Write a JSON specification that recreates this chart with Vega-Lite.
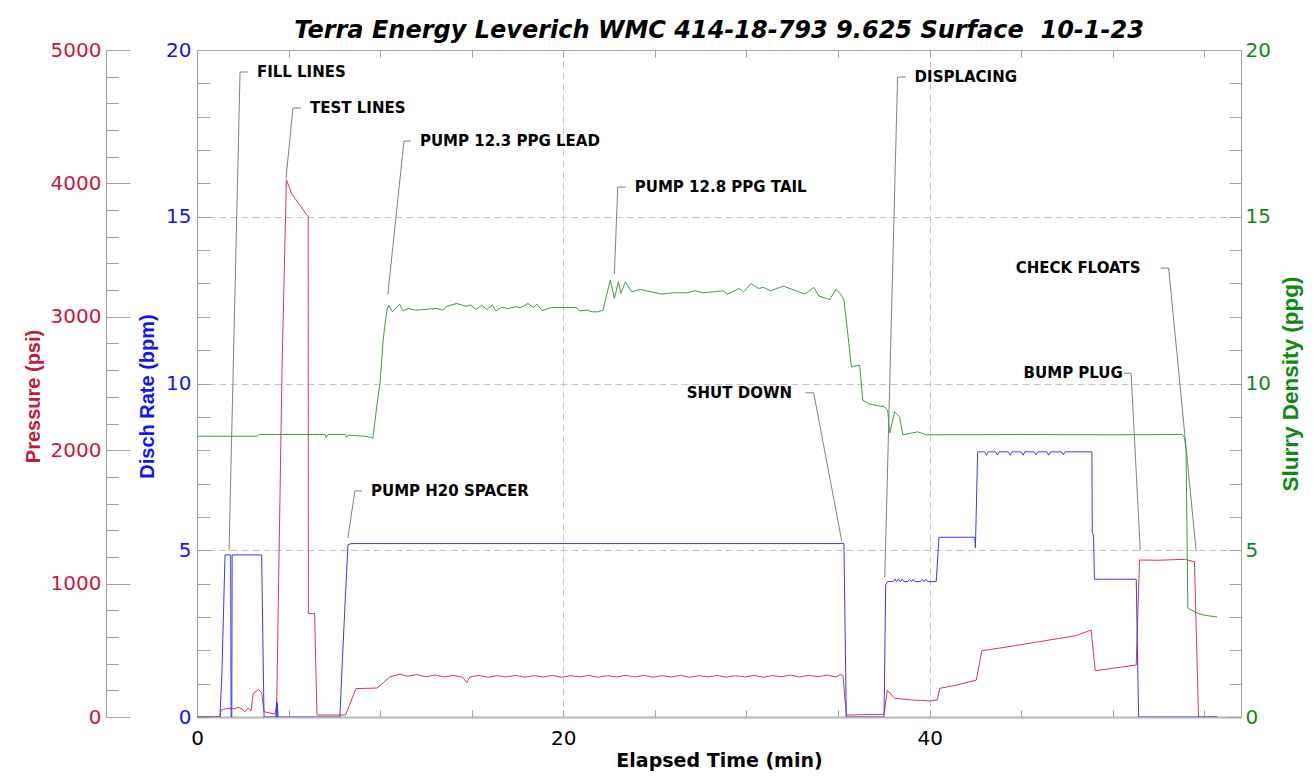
{
  "$schema": "https://vega.github.io/schema/vega-lite/v6.json",
  "width": 1044,
  "height": 667,
  "autosize": "none",
  "padding": {"left": 197, "top": 50, "right": 73, "bottom": 61},
  "background": "white",
  "title": {
    "text": "Terra Energy Leverich WMC 414-18-793 9.625 Surface\u00a0 10-1-23",
    "font": "DejaVu Sans",
    "fontSize": 24,
    "fontWeight": "bold",
    "fontStyle": "italic",
    "color": "black",
    "anchor": "middle",
    "frame": "group",
    "offset": -3
  },
  "config": {
    "view": {"stroke": "#a0a0a0", "strokeWidth": 1},
    "axis": {"domainColor": "#a0a0a0", "tickColor": "#a0a0a0", "gridColor": "#c4c4c4", "labelFont": "DejaVu Sans", "titleFont": "Liberation Sans", "labelOverlap": false, "labelFlush": false}
  },
  "datasets": {
    "pressure": [
      {"t":0,"p":0},{"t":1.25,"p":0},{"t":1.31,"p":52},{"t":1.44,"p":58},{"t":1.75,"p":65},{"t":2.07,"p":62},{"t":2.25,"p":72},{"t":2.44,"p":62},{"t":2.62,"p":40},{"t":2.8,"p":67},{"t":2.95,"p":47},{"t":3.07,"p":177},{"t":3.35,"p":207},{"t":3.53,"p":182},{"t":3.66,"p":40},{"t":3.98,"p":30},{"t":4.26,"p":22},{"t":4.35,"p":80},{"t":4.64,"p":2600},{"t":4.88,"p":4028},{"t":5.18,"p":3920},{"t":6.07,"p":3750},{"t":6.08,"p":775},{"t":6.42,"p":775},{"t":6.55,"p":15},{"t":8.11,"p":15},{"t":8.68,"p":213},{"t":9.3,"p":215},{"t":9.81,"p":217},{"t":10.2,"p":260},{"t":10.53,"p":300},{"t":11.08,"p":322},{"t":11.5,"p":305},{"t":12.0,"p":318},{"t":12.5,"p":302},{"t":13.0,"p":315},{"t":13.5,"p":300},{"t":14.0,"p":312},{"t":14.5,"p":298},{"t":14.73,"p":258},{"t":14.9,"p":300},{"t":15.4,"p":312},{"t":15.9,"p":298},{"t":16.4,"p":310},{"t":16.9,"p":300},{"t":17.4,"p":312},{"t":17.9,"p":298},{"t":18.4,"p":310},{"t":18.9,"p":300},{"t":19.4,"p":312},{"t":19.9,"p":298},{"t":20.4,"p":310},{"t":20.9,"p":300},{"t":21.4,"p":312},{"t":21.9,"p":298},{"t":22.4,"p":310},{"t":22.9,"p":300},{"t":23.4,"p":312},{"t":23.9,"p":300},{"t":24.4,"p":312},{"t":24.9,"p":298},{"t":25.4,"p":310},{"t":25.9,"p":300},{"t":26.4,"p":312},{"t":26.9,"p":298},{"t":27.4,"p":310},{"t":27.9,"p":300},{"t":28.4,"p":312},{"t":28.9,"p":298},{"t":29.4,"p":310},{"t":29.9,"p":300},{"t":30.4,"p":312},{"t":30.9,"p":298},{"t":31.4,"p":310},{"t":31.9,"p":302},{"t":32.4,"p":314},{"t":32.9,"p":300},{"t":33.4,"p":312},{"t":33.9,"p":302},{"t":34.4,"p":314},{"t":34.9,"p":300},{"t":35.1,"p":318},{"t":35.27,"p":312},{"t":35.45,"p":15},{"t":37.51,"p":20},{"t":37.69,"p":200},{"t":38.09,"p":140},{"t":38.5,"p":135},{"t":39.0,"p":128},{"t":39.5,"p":125},{"t":40.0,"p":120},{"t":40.42,"p":128},{"t":40.55,"p":215},{"t":41.5,"p":240},{"t":42.55,"p":277},{"t":42.85,"p":497},{"t":44.0,"p":520},{"t":46.0,"p":565},{"t":48.0,"p":610},{"t":48.82,"p":652},{"t":49.04,"p":347},{"t":50.0,"p":365},{"t":51.28,"p":390},{"t":51.46,"p":1177},{"t":52.5,"p":1175},{"t":53.92,"p":1182},{"t":54.46,"p":1164},{"t":54.68,"p":0},{"t":55.7,"p":0}
    ],
    "rate": [
      {"t":0,"r":0},{"t":1.25,"r":0},{"t":1.36,"r":1.3},{"t":1.53,"r":4.86},{"t":1.84,"r":4.86},{"t":1.86,"r":0},{"t":1.9,"r":0},{"t":1.92,"r":4.86},{"t":3.53,"r":4.86},{"t":3.66,"r":0},{"t":4.31,"r":0},{"t":4.34,"r":0.46},{"t":4.37,"r":0},{"t":4.39,"r":0.42},{"t":4.42,"r":0},{"t":7.8,"r":0},{"t":7.93,"r":1.6},{"t":8.08,"r":3.36},{"t":8.24,"r":5.16},{"t":8.4,"r":5.2},{"t":35.32,"r":5.2},{"t":35.45,"r":0},{"t":37.51,"r":0},{"t":37.6,"r":3.96},{"t":37.71,"r":4.06},{"t":38.0,"r":4.06},{"t":38.1,"r":4.14},{"t":38.2,"r":4.06},{"t":38.3,"r":4.14},{"t":38.4,"r":4.06},{"t":38.5,"r":4.14},{"t":38.6,"r":4.06},{"t":38.8,"r":4.06},{"t":38.9,"r":4.13},{"t":39.0,"r":4.06},{"t":39.1,"r":4.13},{"t":39.2,"r":4.06},{"t":39.5,"r":4.06},{"t":39.6,"r":4.13},{"t":39.7,"r":4.06},{"t":39.8,"r":4.13},{"t":39.9,"r":4.06},{"t":40.36,"r":4.06},{"t":40.51,"r":5.39},{"t":42.46,"r":5.39},{"t":42.5,"r":5.07},{"t":42.62,"r":7.95},{"t":43.0,"r":7.95},{"t":43.1,"r":7.85},{"t":43.2,"r":7.95},{"t":43.6,"r":7.95},{"t":43.7,"r":7.86},{"t":43.8,"r":7.95},{"t":44.3,"r":7.95},{"t":44.4,"r":7.85},{"t":44.5,"r":7.95},{"t":45.0,"r":7.95},{"t":45.1,"r":7.85},{"t":45.2,"r":7.95},{"t":45.7,"r":7.95},{"t":45.8,"r":7.86},{"t":45.9,"r":7.95},{"t":46.4,"r":7.95},{"t":46.5,"r":7.85},{"t":46.6,"r":7.95},{"t":47.2,"r":7.95},{"t":47.3,"r":7.86},{"t":47.4,"r":7.95},{"t":48.73,"r":7.95},{"t":48.86,"r":7.95},{"t":48.88,"r":5.56},{"t":48.95,"r":5.4},{"t":49.0,"r":4.13},{"t":51.28,"r":4.13},{"t":51.41,"r":0},{"t":55.7,"r":0}
    ],
    "density": [
      {"t":0,"d":8.42},{"t":3.3,"d":8.42},{"t":3.4,"d":8.47},{"t":7.0,"d":8.47},{"t":7.05,"d":8.38},{"t":7.15,"d":8.47},{"t":8.1,"d":8.47},{"t":8.17,"d":8.38},{"t":8.25,"d":8.45},{"t":9.2,"d":8.42},{"t":9.6,"d":8.36},{"t":9.79,"d":9.2},{"t":9.99,"d":10.0},{"t":10.18,"d":11.4},{"t":10.37,"d":12.2},{"t":10.47,"d":12.35},{"t":10.67,"d":12.15},{"t":11.06,"d":12.38},{"t":11.25,"d":12.18},{"t":11.55,"d":12.25},{"t":11.93,"d":12.2},{"t":13.1,"d":12.25},{"t":13.4,"d":12.2},{"t":13.69,"d":12.32},{"t":14.18,"d":12.4},{"t":14.66,"d":12.32},{"t":14.95,"d":12.35},{"t":15.25,"d":12.22},{"t":15.54,"d":12.35},{"t":15.83,"d":12.22},{"t":16.13,"d":12.35},{"t":16.32,"d":12.18},{"t":16.61,"d":12.28},{"t":17.0,"d":12.25},{"t":17.39,"d":12.3},{"t":17.68,"d":12.28},{"t":18.07,"d":12.4},{"t":18.37,"d":12.28},{"t":18.55,"d":12.38},{"t":18.85,"d":12.18},{"t":19.34,"d":12.28},{"t":20.12,"d":12.28},{"t":20.7,"d":12.28},{"t":20.9,"d":12.18},{"t":21.28,"d":12.2},{"t":21.58,"d":12.15},{"t":21.88,"d":12.15},{"t":22.17,"d":12.2},{"t":22.56,"d":13.1},{"t":22.79,"d":12.55},{"t":23.01,"d":13.05},{"t":23.14,"d":12.7},{"t":23.39,"d":13.05},{"t":23.73,"d":12.75},{"t":24.21,"d":12.82},{"t":24.8,"d":12.75},{"t":25.38,"d":12.68},{"t":25.97,"d":12.72},{"t":26.74,"d":12.72},{"t":27.23,"d":12.78},{"t":27.61,"d":12.72},{"t":28.21,"d":12.75},{"t":28.7,"d":12.78},{"t":28.98,"d":12.68},{"t":29.58,"d":12.85},{"t":29.85,"d":12.75},{"t":30.25,"d":13.0},{"t":30.65,"d":12.85},{"t":30.94,"d":12.88},{"t":31.32,"d":12.78},{"t":32.01,"d":12.92},{"t":32.6,"d":12.8},{"t":33.18,"d":12.68},{"t":33.67,"d":12.88},{"t":33.96,"d":12.62},{"t":34.54,"d":12.52},{"t":34.89,"d":12.82},{"t":35.1,"d":12.7},{"t":35.32,"d":12.52},{"t":35.53,"d":11.5},{"t":35.73,"d":10.5},{"t":36.18,"d":10.55},{"t":36.35,"d":9.5},{"t":36.73,"d":9.38},{"t":37.55,"d":9.3},{"t":37.71,"d":9.2},{"t":37.82,"d":8.52},{"t":38.09,"d":9.15},{"t":38.36,"d":9.0},{"t":38.54,"d":8.46},{"t":39.35,"d":8.55},{"t":39.82,"d":8.46},{"t":45,"d":8.47},{"t":50,"d":8.46},{"t":53.8,"d":8.47},{"t":53.92,"d":8.38},{"t":54.0,"d":8.0},{"t":54.1,"d":3.26},{"t":54.64,"d":3.11},{"t":55.0,"d":3.05},{"t":55.69,"d":3.0}
    ],
    "notes": [
      {"x":3.27,"y":19.34,"label":"FILL LINES"},
      {"x":6.17,"y":18.26,"label":"TEST LINES"},
      {"x":12.17,"y":17.27,"label":"PUMP 12.3 PPG LEAD"},
      {"x":23.9,"y":15.89,"label":"PUMP 12.8 PPG TAIL"},
      {"x":9.5,"y":6.78,"label":"PUMP H20 SPACER"},
      {"x":26.74,"y":9.72,"label":"SHUT DOWN"},
      {"x":39.18,"y":19.19,"label":"DISPLACING"},
      {"x":44.7,"y":13.46,"label":"CHECK FLOATS"},
      {"x":45.13,"y":10.31,"label":"BUMP PLUG"}
    ],
    "leaders": [
      {"id":"a","k":0,"x":2.78,"y":19.34},{"id":"a","k":1,"x":2.35,"y":19.34},{"id":"a","k":2,"x":1.75,"y":5.0},
      {"id":"b","k":0,"x":5.68,"y":18.26},{"id":"b","k":1,"x":5.24,"y":18.26},{"id":"b","k":2,"x":4.86,"y":16.16},
      {"id":"c","k":0,"x":11.68,"y":17.27},{"id":"c","k":1,"x":11.3,"y":17.27},{"id":"c","k":2,"x":10.42,"y":12.68},
      {"id":"d","k":0,"x":23.41,"y":15.89},{"id":"d","k":1,"x":22.97,"y":15.89},{"id":"d","k":2,"x":22.79,"y":13.28},
      {"id":"e","k":0,"x":9.0,"y":6.78},{"id":"e","k":1,"x":8.62,"y":6.78},{"id":"e","k":2,"x":8.24,"y":5.37},
      {"id":"f","k":0,"x":33.23,"y":9.72},{"id":"f","k":1,"x":33.67,"y":9.72},{"id":"f","k":2,"x":35.2,"y":5.28},
      {"id":"g","k":0,"x":38.69,"y":19.19},{"id":"g","k":1,"x":38.25,"y":19.19},{"id":"g","k":2,"x":37.55,"y":4.17},
      {"id":"h","k":0,"x":52.61,"y":13.46},{"id":"h","k":1,"x":53.05,"y":13.46},{"id":"h","k":2,"x":54.55,"y":4.98},
      {"id":"i","k":0,"x":50.62,"y":10.31},{"id":"i","k":1,"x":51.0,"y":10.31},{"id":"i","k":2,"x":51.5,"y":5.0}
    ]
  },
  "layer": [
    {
      "data": {"name": "pressure"},
      "mark": {"type": "line", "color": "#d0384e", "strokeWidth": 1, "clip": true},
      "encoding": {
        "x": {"field": "t", "type": "quantitative", "scale": {"domain": [0, 57], "nice": false, "zero": false},
          "axis": {"orient": "bottom", "values": [0,5,10,15,20,25,30,35,40,45,50,55],
            "labelExpr": "datum.value % 20 === 0 ? datum.label : ''",
            "tickSize": -7, "labelPadding": 18, "labelFontSize": 20, "labelColor": "black",
            "grid": true, "gridDash": [7,4],
            "gridOpacity": {"condition": {"test": "datum.value === 20 || datum.value === 40", "value": 1}, "value": 0},
            "domainColor": "#b4b4b4", "domainWidth": 2,
            "title": "Elapsed Time (min)", "titleFont": "DejaVu Sans", "titleFontSize": 19, "titleFontWeight": "bold", "titleColor": "black",
            "titleY": 34, "titleBaseline": "top"}},
        "y": {"field": "p", "type": "quantitative", "scale": {"domain": [0, 5000], "nice": false},
          "axis": {"orient": "left", "offset": 91,
            "values": [0,200,400,600,800,1000,1200,1400,1600,1800,2000,2200,2400,2600,2800,3000,3200,3400,3600,3800,4000,4200,4400,4600,4800,5000],
            "format": "d",
            "tickSize": {"condition": {"test": "datum.value % 1000 === 0", "value": -24}, "value": -12},
            "labelExpr": "datum.value % 1000 === 0 ? datum.label : ''",
            "labelPadding": 29, "labelFontSize": 20, "labelColor": "#c41a3b", "grid": false,
            "title": "Pressure (psi)", "titleColor": "#c41a3b", "titleFontSize": 20, "titleFontWeight": "bold",
            "titleAngle": 270, "titleX": -73, "titleY": 346, "titleAlign": "center", "titleBaseline": "middle"}}
      }
    },
    {
      "data": {"name": "rate"},
      "mark": {"type": "line", "color": "#3838ff", "strokeWidth": 1, "clip": true},
      "encoding": {
        "x": {"field": "t", "type": "quantitative", "scale": {"domain": [0, 57], "nice": false, "zero": false}, "axis": null},
        "y": {"field": "r", "type": "quantitative", "scale": {"domain": [0, 20], "nice": false},
          "axis": {"orient": "left", "offset": 0,
            "values": [0,1,2,3,4,5,6,7,8,9,10,11,12,13,14,15,16,17,18,19,20],
            "tickSize": -13,
            "labelExpr": "datum.value % 5 === 0 ? datum.label : ''",
            "labelPadding": 19, "labelFontSize": 20, "labelColor": "#1414f0",
            "grid": true, "gridDash": [7,4],
            "gridOpacity": {"condition": {"test": "datum.value === 5 || datum.value === 10 || datum.value === 15", "value": 1}, "value": 0},
            "title": "Disch Rate (bpm)", "titleColor": "#1414f0", "titleFontSize": 20, "titleFontWeight": "bold",
            "titleAngle": 270, "titleX": -50, "titleY": 346, "titleAlign": "center", "titleBaseline": "middle"}}
      }
    },
    {
      "data": {"name": "leaders"},
      "mark": {"type": "line", "color": "#808080", "strokeWidth": 1},
      "encoding": {
        "x": {"field": "x", "type": "quantitative", "scale": {"domain": [0, 57], "nice": false, "zero": false}, "axis": null},
        "y": {"field": "y", "type": "quantitative", "scale": {"domain": [0, 20], "nice": false}, "axis": null},
        "detail": {"field": "id"},
        "order": {"field": "k", "type": "quantitative"}
      }
    },
    {
      "data": {"name": "notes"},
      "mark": {"type": "text", "font": "DejaVu Sans", "fontSize": 15, "fontWeight": "bold", "color": "black", "align": "left", "baseline": "middle"},
      "encoding": {
        "x": {"field": "x", "type": "quantitative", "scale": {"domain": [0, 57], "nice": false, "zero": false}, "axis": null},
        "y": {"field": "y", "type": "quantitative", "scale": {"domain": [0, 20], "nice": false}, "axis": null},
        "text": {"field": "label"}
      }
    },
    {
      "data": {"name": "density"},
      "mark": {"type": "line", "color": "#3c9c46", "strokeWidth": 1, "clip": true},
      "encoding": {
        "x": {"field": "t", "type": "quantitative", "scale": {"domain": [0, 57], "nice": false, "zero": false},
          "axis": {"orient": "top", "values": [5,10,15,20,25,30,35,40,45,50,55], "tickSize": -7, "labels": false, "domain": false, "grid": false, "title": null}},
        "y": {"field": "d", "type": "quantitative", "scale": {"domain": [0, 20], "nice": false},
          "axis": {"orient": "right", "offset": 0,
            "values": [0,1,2,3,4,5,6,7,8,9,10,11,12,13,14,15,16,17,18,19,20],
            "tickSize": -12,
            "labelExpr": "datum.value % 5 === 0 ? datum.label : ''",
            "labelPadding": 16, "labelFontSize": 20, "labelColor": "#108a10", "grid": false,
            "title": "Slurry Density (ppg)", "titleColor": "#108a10", "titleFontSize": 22.5, "titleFontWeight": "bold",
            "titleAngle": 270, "titleX": 49, "titleY": 333.5, "titleAlign": "center", "titleBaseline": "middle"}}
      }
    }
  ],
  "resolve": {"scale": {"y": "independent"}, "axis": {"y": "independent", "x": "independent"}}
}
